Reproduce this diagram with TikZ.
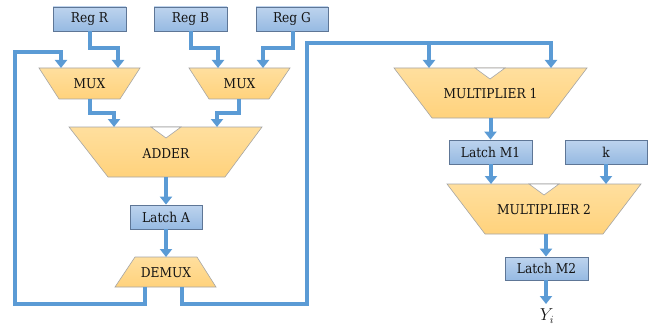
\documentclass[tikz,border=0pt]{standalone}
\usepackage{fontspec}
\setmainfont{DejaVu Serif Condensed}
\usetikzlibrary{arrows.meta}
\definecolor{wire}{HTML}{5B9BD5}
\definecolor{regtop}{HTML}{BDD3EE}
\definecolor{regbot}{HTML}{96BAE2}
\definecolor{regedge}{HTML}{5E7696}
\definecolor{optop}{HTML}{FFDF9E}
\definecolor{opbot}{HTML}{FFD27C}
\definecolor{opedge}{HTML}{A5A5A5}
\definecolor{ink}{HTML}{141414}
\tikzset{
  reg/.style={draw=regedge, line width=0.8pt, top color=regtop, bottom color=regbot,
    minimum height=24pt, inner sep=0pt, text=ink, font=\fontsize{13.6}{16}\selectfont},
  opshape/.style={draw=opedge, line width=0.6pt, top color=optop, bottom color=opbot},
  notch/.style={draw=opedge, line width=0.6pt, fill=white},
  oplabel/.style={inner sep=1pt, text=ink, font=\fontsize{13.6}{16}\selectfont},
  conn/.style={draw=wire, line width=4pt, -{Triangle[width=12pt,length=8pt]}},
}
\begin{document}
\begin{tikzpicture}[x=1pt,y=-1pt]
\useasboundingbox (0,0) rectangle (660,326);

% ---------- registers and latches ----------
\node[reg, minimum width=73pt] (regR) at (89.5,19) {Reg R};
\node[reg, minimum width=73pt] (regB) at (190.5,19) {Reg B};
\node[reg, minimum width=72pt] (regG) at (292,19) {Reg G};
\node[reg, minimum width=72pt] (latchA) at (166,217) {Latch A};
\node[reg, minimum width=83pt] (latchM1) at (490.5,152) {Latch M1};
\node[reg, minimum width=82pt] (kreg) at (606,152) {k};
\node[reg, minimum width=83pt, minimum height=23pt] (latchM2) at (546.5,268.5) {Latch M2};

% ---------- functional units ----------
% left multiplexer
\path[opshape] (39,68) -- (140,68) -- (120,99) -- (59,99) -- cycle;
\node[oplabel] (muxL) at (89.5,84) {MUX};
% right multiplexer
\path[opshape] (189,68) -- (290,68) -- (269,99) -- (209,99) -- cycle;
\node[oplabel] (muxR) at (239.5,84) {MUX};
% adder
\path[opshape] (69,127) -- (262,127) -- (225,177) -- (108,177) -- cycle;
\path[notch] (151,127) -- (181,127) -- (166,138) -- cycle;
\node[oplabel] (adder) at (166,154) {ADDER};
% demultiplexer
\path[opshape] (135,257) -- (197,257) -- (216,287) -- (115,287) -- cycle;
\node[oplabel] (demux) at (166,273) {DEMUX};
% multiplier 1
\path[opshape] (394,68) -- (587,68) -- (549,118) -- (432,118) -- cycle;
\path[notch] (475,68) -- (505,68) -- (490,79) -- cycle;
\node[oplabel] (mult1) at (490.5,94) {MULTIPLIER 1};
% multiplier 2
\path[opshape] (447,184) -- (641,184) -- (603,234) -- (485,234) -- cycle;
\path[notch] (529,184) -- (559,184) -- (544,195) -- cycle;
\node[oplabel] (mult2) at (544,210) {MULTIPLIER 2};

% ---------- ports ----------
\coordinate (muxLa) at (61,68);   \coordinate (muxLb) at (118,68);
\coordinate (muxLo) at (90,99);
\coordinate (muxRa) at (218,68);  \coordinate (muxRb) at (263,68);
\coordinate (muxRo) at (239,99);
\coordinate (adderA) at (114,127); \coordinate (adderB) at (217,127);
\coordinate (adderO) at (166,177);
\coordinate (demuxI) at (166,257);
\coordinate (demuxL) at (145,287); \coordinate (demuxR) at (182,287);
\coordinate (m1a) at (429,68);    \coordinate (m1b) at (551,68);
\coordinate (m1o) at (490.5,118);
\coordinate (m2a) at (491,184);   \coordinate (m2b) at (606,184);
\coordinate (m2o) at (546,234);
\coordinate (fork) at (429,43);
\node[inner sep=0pt, text=ink] (yout) at (547,316) {\fontsize{16}{18}\selectfont$Y_i$};

% ---------- connections ----------
\draw[conn] (regR.south) |- (118,48) -- (muxLb);
\draw[conn] (regB.south -| 191,0) |- (218,48) -- (muxRa);
\draw[conn] (regG.south -| 293,0) |- (263,48) -- (muxRb);
\draw[conn] (muxLo) |- (114,113) -- (adderA);
\draw[conn] (muxRo) |- (217,113) -- (adderB);
\draw[conn] (adderO) -- (latchA.north);
\draw[conn] (latchA.south) -- (demuxI);
% feedback to the left multiplexer
\draw[conn] (demuxL) -- (145,304) -- (15,304) -- (15,52) -| (muxLa);
% result routed to multiplier 1
\draw[conn] (demuxR) |- (307,304) -- (307,43) -| (m1b);
\draw[conn] (fork) -- (m1a);
\draw[conn] (m1o) -- (latchM1.north);
\draw[conn] (latchM1.south -| m2a) -- (m2a);
\draw[conn] (kreg.south) -- (m2b);
\draw[conn] (m2o) -- (latchM2.north -| m2o);
\draw[conn] (latchM2.south -| m2o) -- (546,304);
\end{tikzpicture}
\end{document}
